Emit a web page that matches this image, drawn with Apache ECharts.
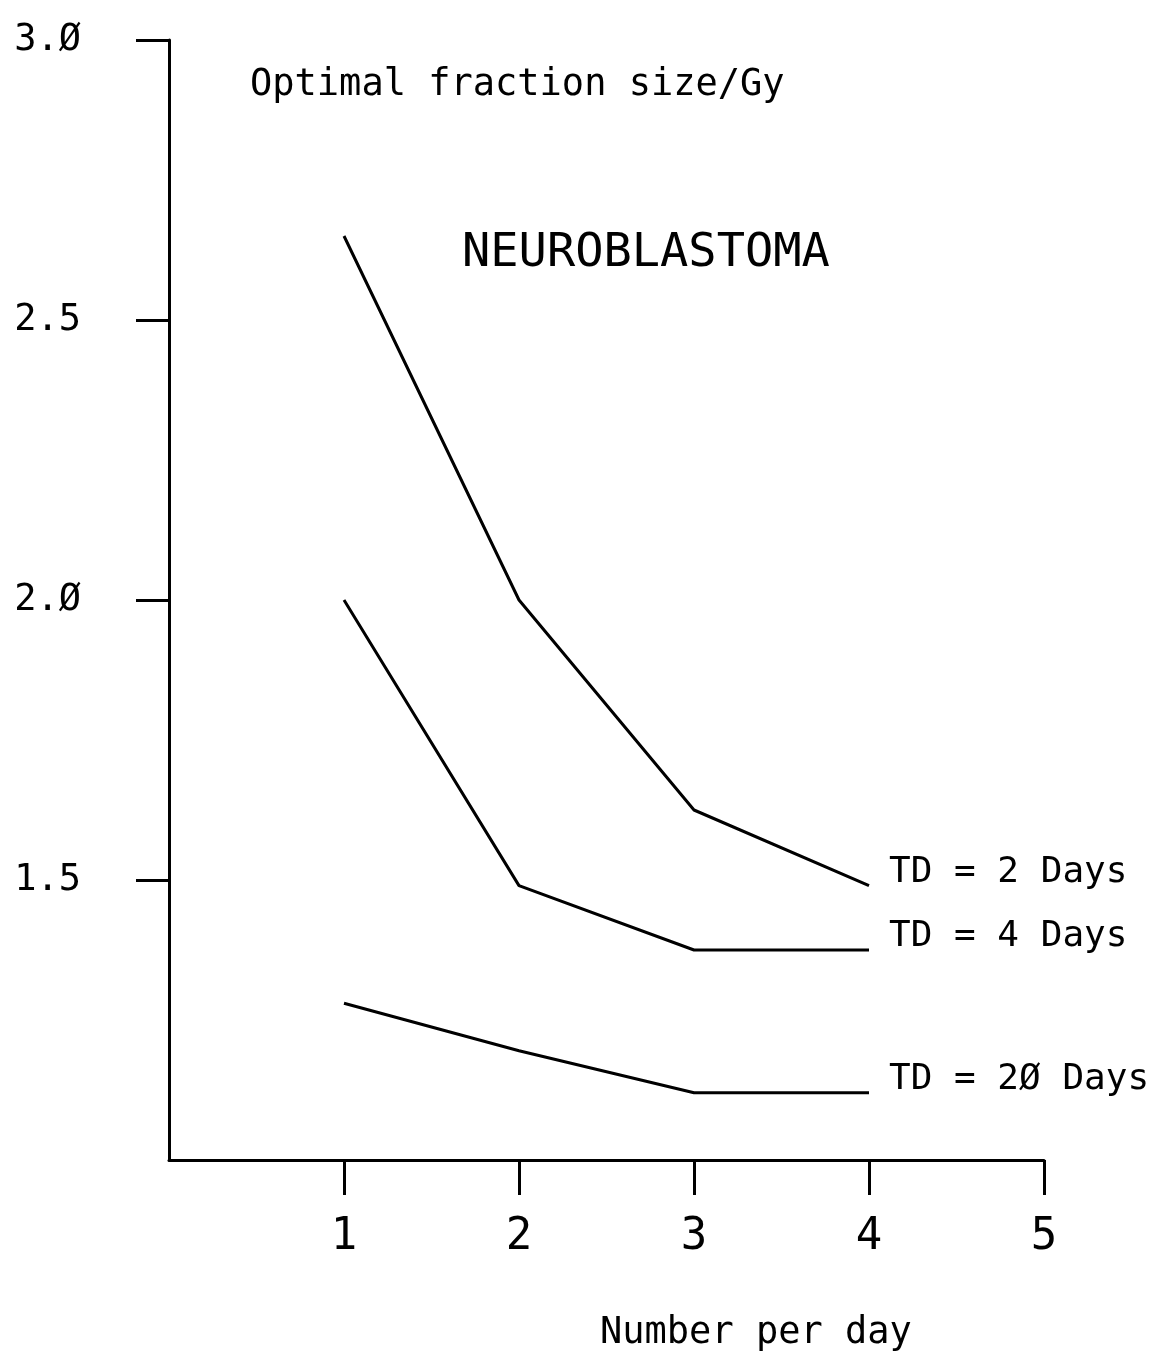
<!DOCTYPE html>
<html>
<head>
<meta charset="utf-8">
<title>Neuroblastoma – optimal fraction size</title>
<script src="https://cdn.jsdelivr.net/npm/echarts@6/dist/echarts.min.js"></script>
<style>
  html, body { margin: 0; padding: 0; background: #fff; }
  #chart { width: 1156px; height: 1356px; }
</style>
</head>
<body>
<div id="chart"></div>
<script>
// Fractions delivered per day
const fractionsPerDay = [1, 2, 3, 4];

// Optimal fraction size (Gy) for each tumour doubling time
const td2Days = [2.65, 2.0, 1.625, 1.49];
const td4Days = [2.0, 1.49, 1.375, 1.375];
const td20Days = [1.28, 1.195, 1.12, 1.12];

const seriesNames = ['TD = 2 Days', 'TD = 4 Days', 'TD = 20 Days'];
const seriesValues = [td2Days, td4Days, td20Days];

// Tick labels shown on each axis
const xTickValues = [1, 2, 3, 4, 5];
const yTickValues = [1.5, 2.0, 2.5, 3.0];

const FONT = '"DejaVu Sans Mono", monospace';
const INK = '#000';
const STROKE = 3;

// Plotter-style slashed zero
const slashZero = s => String(s).replace(/0/g, 'Ø');

const chart = echarts.init(document.getElementById('chart'), null, { renderer: 'canvas' });

const series = seriesNames.map((name, i) => ({
  name: name,
  type: 'line',
  data: fractionsPerDay.map((x, j) => [x, seriesValues[i][j]]),
  showSymbol: false,
  symbol: 'none',
  lineStyle: { color: INK, width: STROKE },
  silent: true,
  animation: false,
  endLabel: {
    show: true,
    formatter: p => slashZero(p.seriesName),
    color: INK,
    fontFamily: FONT,
    fontSize: 36,
    distance: 20,
    offset: [0, -13]
  }
}));

chart.setOption({
  backgroundColor: '#fff',
  animation: false,
  grid: { left: 169, right: 112, top: 40, bottom: 196, containLabel: false },
  xAxis: {
    type: 'value',
    min: 0,
    max: 5,
    interval: 1,
    splitLine: { show: false },
    axisLine: { show: true, onZero: false, lineStyle: { color: INK, width: STROKE } },
    axisTick: {
      show: true, inside: false, length: 35,
      customValues: xTickValues,
      lineStyle: { color: INK, width: STROKE }
    },
    axisLabel: {
      customValues: xTickValues,
      color: INK, fontFamily: FONT, fontSize: 44, margin: 56
    }
  },
  yAxis: {
    type: 'value',
    min: 1,
    max: 3,
    interval: 0.5,
    splitLine: { show: false },
    axisLine: { show: true, onZero: false, lineStyle: { color: INK, width: STROKE } },
    axisTick: {
      show: true, inside: false, length: 33,
      customValues: yTickValues,
      lineStyle: { color: INK, width: STROKE }
    },
    axisLabel: {
      customValues: yTickValues,
      formatter: v => slashZero(v.toFixed(1)),
      color: INK, fontFamily: FONT, fontSize: 37, margin: 88
    }
  },
  graphic: [
    {
      type: 'text', left: 250, top: 67,
      style: { text: 'Optimal fraction size/Gy', fill: INK, font: '37px ' + FONT }
    },
    {
      type: 'text', left: 462, top: 230,
      style: { text: 'NEUROBLASTOMA', fill: INK, font: '47px ' + FONT }
    },
    {
      type: 'text', left: 600, top: 1315,
      style: { text: 'Number per day', fill: INK, font: '37px ' + FONT }
    }
  ],
  series: series
});
</script>
</body>
</html>
